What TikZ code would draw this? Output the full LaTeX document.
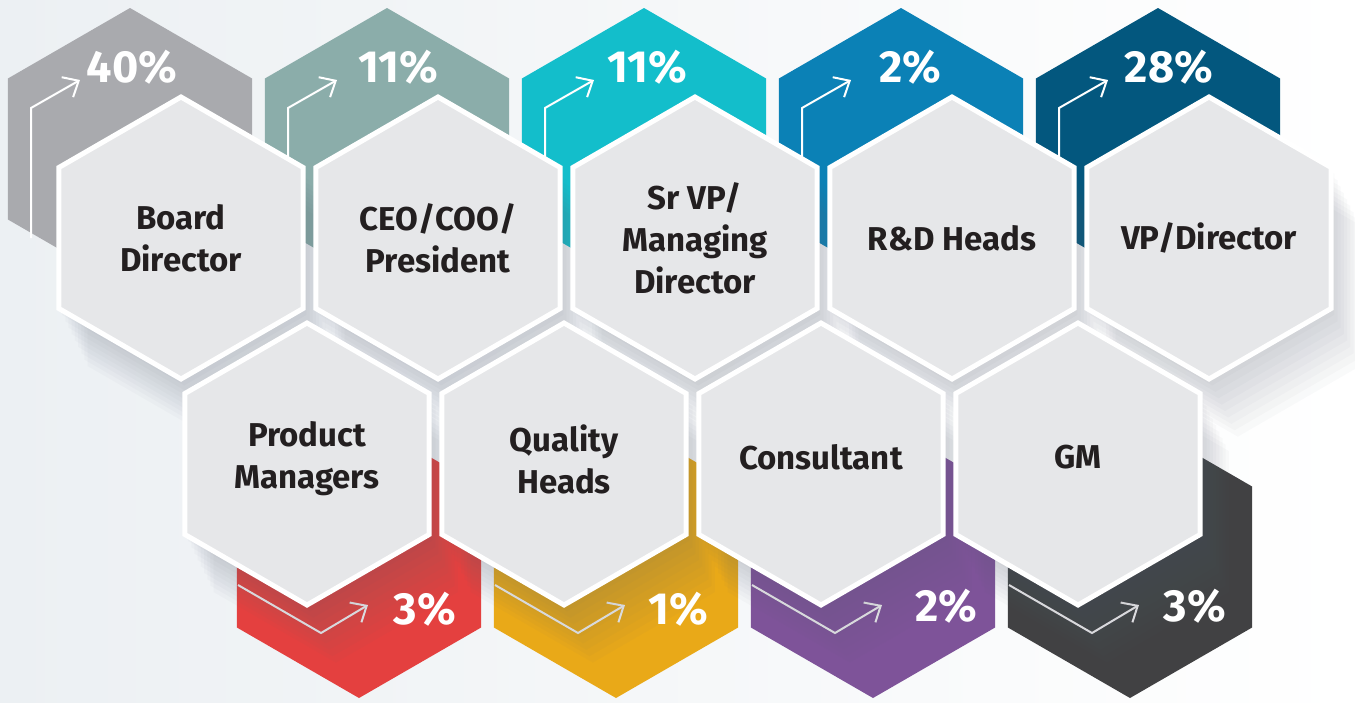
\documentclass[tikz,border=0pt]{standalone}
\usepackage{fontspec}
\setmainfont{Fira Sans}
\usetikzlibrary{arrows.meta}
\definecolor{cgray}{HTML}{A9AAAE}
\definecolor{cteal}{HTML}{8BADAA}
\definecolor{ccyan}{HTML}{13BECB}
\definecolor{cblue}{HTML}{0B81B6}
\definecolor{cnavy}{HTML}{03577E}
\definecolor{cred}{HTML}{E4403F}
\definecolor{cyellow}{HTML}{E9A918}
\definecolor{cpurple}{HTML}{7E5399}
\definecolor{cdark}{HTML}{414143}
\definecolor{hexfill}{HTML}{E6E7E9}
\definecolor{lbltxt}{HTML}{231F20}
\definecolor{bgleft}{HTML}{ECF0F3}
\definecolor{shadowc}{HTML}{5E6578}
\tikzset{
  hexs/.pic={\path[pic actions] (90:141) -- (30:141) -- (-30:141) -- (-90:141) -- (-150:141) -- (150:141) -- cycle;},
  front/.style={fill=hexfill, draw=white, line width=5pt, line join=miter},
  lbl/.style={font=\fontsize{33}{42}\selectfont\bfseries, text=lbltxt, align=center, inner sep=0pt},
  pct/.style={font=\fontsize{45}{52}\selectfont\bfseries, text=white, anchor=base, inner sep=0pt},
  arr/.style={line width=2pt, line join=miter, -{Straight Barb[length=13pt,width=23pt]}},
}
\begin{document}
\begin{tikzpicture}[x=1pt,y=-1pt]
\useasboundingbox (0,0) rectangle (1355,702);
\shade[left color=bgleft, right color=white] (0,0) rectangle (1355,702);
% coloured hexagons, top row
\foreach \cx/\col in {130/cgray,387/cteal,644/ccyan,901/cblue,1158/cnavy}
  \pic[fill=\col] at (\cx,149) {hexs};
% coloured hexagons, bottom row
\foreach \cx/\col in {359/cred,616/cyellow,873/cpurple,1130/cdark}
  \pic[fill=\col] at (\cx,557) {hexs};
% top row arrows
\foreach \cx in {130,387,644,901,1158}
  \draw[arr, draw=white] ({\cx-99},238) -- ({\cx-99},108) -- ({\cx-50},80);
% bottom row arrows
\foreach \cx in {359,616,873,1130}
  \draw[arr, draw=white!88!gray] ({\cx-121},585) -- ({\cx-38},633) -- ({\cx+9},605);
% shadows of the front hexagons
\foreach \cx/\cy in {181/238,438/238,695/238,952/238,1209/238,307/464,564/464,821/464,1078/464}
  \foreach \k in {1,...,9}
    \pic[fill=shadowc, opacity=0.03] at ({\cx+\k*3.2},{\cy+\k*6.4}) {hexs};
% percentages
\node[pct] (p1) at (132,82) {40\%};
\node[pct] (p2) at (398,82) {11\%};
\node[pct] (p3) at (647,82) {11\%};
\node[pct] (p4) at (910,82) {2\%};
\node[pct] (p5) at (1169,82) {28\%};
\node[pct] (p6) at (425,624) {3\%};
\node[pct] (p7) at (678,624) {1\%};
\node[pct] (p8) at (946,621) {2\%};
\node[pct] (p9) at (1195,621) {3\%};
% front hexagons
\foreach \cx/\cy in {181/238,438/238,695/238,952/238,1209/238,307/464,564/464,821/464,1078/464}
  \pic[front] at (\cx,\cy) {hexs};
% labels
\node[lbl] (bd) at (181,238) {Board\\Director};
\node[lbl] (ceo) at (438,238) {CEO/COO/\\President};
\node[lbl] (svp) at (695,238) {Sr VP/\\Managing\\Director};
\node[lbl] (rd) at (952,238) {R\&D Heads};
\node[lbl] (vp) at (1209,238) {VP/Director};
\node[lbl] (pm) at (307,459) {Product\\Managers};
\node[lbl] (qh) at (564,459) {Quality\\Heads};
\node[lbl] (cons) at (821,457) {Consultant};
\node[lbl] (gm) at (1078,457) {GM};
\end{tikzpicture}
\end{document}
